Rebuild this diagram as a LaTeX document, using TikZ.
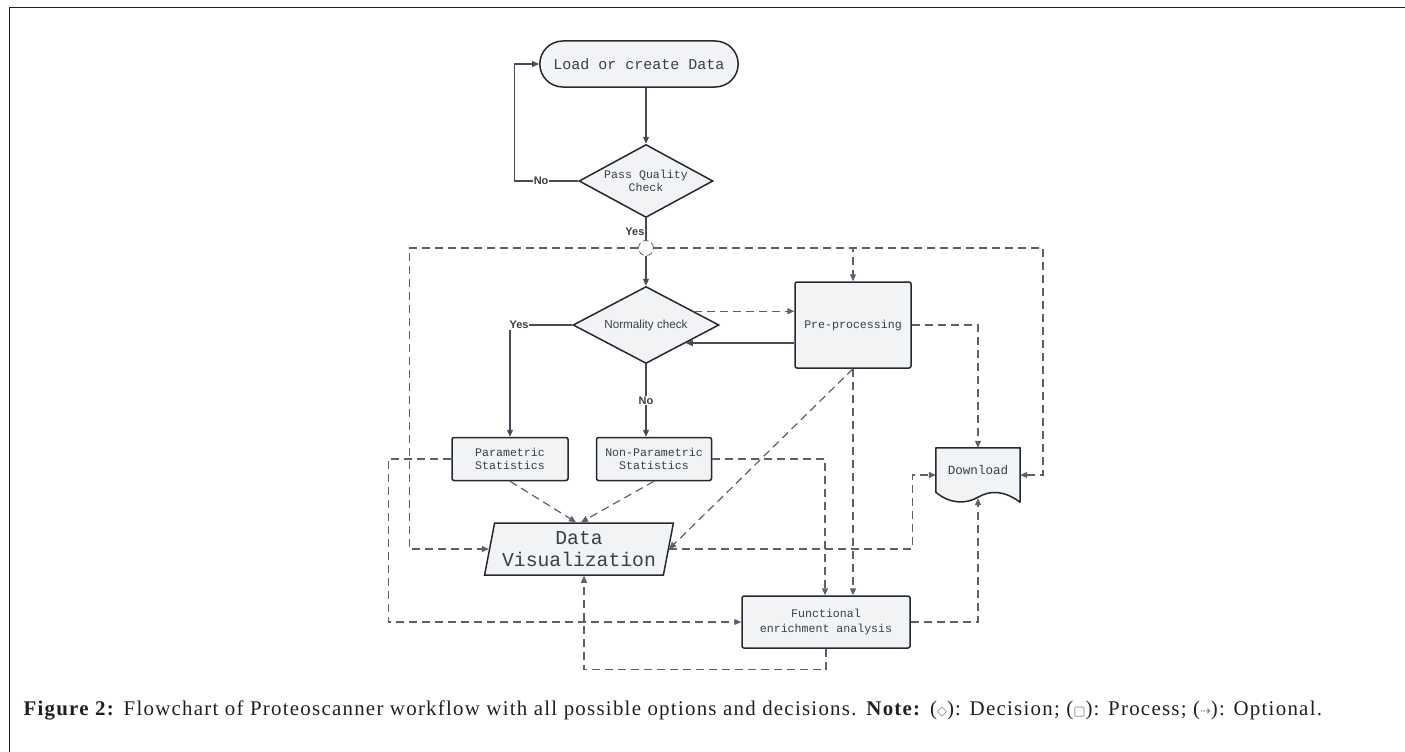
\documentclass[tikz,border=0pt]{standalone}
\usepackage{fontspec}
\setsansfont{Liberation Sans}
\setmonofont{Liberation Mono}
\newfontfamily\glyphfont{DejaVu Sans}
\newfontfamily\capfont[LetterSpace=6]{Liberation Serif}
\usetikzlibrary{shapes.geometric,shapes.misc,arrows.meta,calc,backgrounds}
\definecolor{boxfill}{RGB}{242,243,245}
\definecolor{boxline}{RGB}{36,40,47}
\definecolor{flowline}{RGB}{70,75,85}
\definecolor{optline}{RGB}{92,96,104}
\definecolor{labeltext}{RGB}{58,62,70}
\definecolor{captext}{RGB}{35,31,32}

\begin{document}
\begin{tikzpicture}[x=1pt,y=-1pt,>={Triangle[length=7pt,width=6pt]},node distance=144pt,
    shape node/.style={draw=boxline,fill=boxfill,line width=1.5pt,text=labeltext,align=center,font=\ttfamily\fontsize{11.6}{13.5}\selectfont},
    term node/.style={shape node,rounded rectangle,minimum width=205pt,minimum height=46pt,font=\ttfamily\fontsize{15}{17}\selectfont},
    decision node/.style={shape node,diamond,aspect=1.8,inner sep=0pt},
    process node/.style={shape node,rectangle,rounded corners=2pt},
    data node/.style={shape node,trapezium,trapezium left angle=76,trapezium right angle=104,trapezium stretches=true,minimum width=189pt,minimum height=52pt,inner sep=1pt,font=\ttfamily\fontsize{19.7}{21.7}\selectfont},
    hub node/.style={circle,draw=optline,line width=0.8pt,dash pattern=on 6pt off 3pt,minimum size=15pt,inner sep=0pt},
    flow/.style={->,draw=flowline,line width=1.2pt},
    opt/.style={->,draw=optline,line width=1.2pt,dash pattern=on 8pt off 5pt},
    branch/.style={font=\sffamily\bfseries\fontsize{11}{12}\selectfont,text=labeltext,fill=white,inner sep=1pt}]
    \useasboundingbox (0,0) rectangle (1405,752);
    \draw[captext,line width=1pt] (9,752) -- (9,8) -- (1405,8);

    \node[term node] (load) at (639,64) {Load or create Data};
    \node[decision node,minimum width=134pt,minimum height=73pt] (qc) [below of=load,xshift=7,yshift=27] {Pass Quality\\Check};
    \node[hub node] (hub) [below of=qc,yshift=77] {};
    \node[decision node,minimum width=146pt,minimum height=77pt,font=\sffamily\fontsize{11.7}{13}\selectfont] (norm) [below of=qc] {Normality check};
    \node[process node,minimum width=116pt,minimum height=86pt] (pre) [right of=norm,xshift=63] {Pre-processing};
    \node[process node,minimum width=115pt,minimum height=43pt] (nonpar) [below of=norm,xshift=8,yshift=10] {Non-Parametric\\Statistics};
    \node[process node,minimum width=116pt,minimum height=43pt] (param) [left of=nonpar] {Parametric\\Statistics};
    \node[data node] (dv) [below of=param,xshift=69,yshift=54] {Data\\Visualization};
    \node[process node,minimum width=168pt,minimum height=52pt,font=\ttfamily\fontsize{11.6}{15}\selectfont] (func) [below of=pre,xshift=-27,yshift=-153] {Functional\\enrichment analysis};
    \node[minimum width=84pt,minimum height=44pt,inner sep=0pt,text=labeltext,font=\ttfamily\fontsize{12.6}{14}\selectfont] (dl) [right of=pre,xshift=-19,yshift=-145] {Download};

    % document shape behind the Download text
    \begin{scope}[on background layer]
        \draw[boxline,fill=boxfill,line width=1.5pt,line join=round] (dl.south west) -- (dl.north west) -- (dl.north east) -- ($(dl.south)+(42,10)$)
            .. controls ($(dl.south)+(26,-2)$) and ($(dl.south)+(12,-2)$) .. ($(dl.south)+(0,5)$)
            .. controls ($(dl.south)+(-12,12)$) and ($(dl.south)+(-28,12)$) .. cycle;
    \end{scope}

    \coordinate (na) at ($(norm.north)!0.65!(norm.east)$);
    \coordinate (nb) at ($(norm.east)!0.46!(norm.south)$);

    % main flow
    \draw[flow] (qc.north |- load.south) -- (qc.north);
    \draw[flow] (qc.west) -- node[branch,pos=0.58] {No} ++(-64,0) |- (load.west);
    \draw[flowline,line width=1.2pt] (qc.south) -- node[branch,left,pos=0.6,fill=none] {Yes} (hub.north);
    \draw[flow] (hub.south) -- (norm.north);
    \draw[flow] (norm.west) -| node[branch,pos=0.5,xshift=9] {Yes} (param.north);
    \draw[flow] (norm.south) -- node[branch] {No} (norm.south |- nonpar.north);
    \draw[flow] (pre.west |- nb) -- (nb);

    % optional steps
    \draw[opt] (na) -- (na -| pre.west);
    \draw[opt] (hub.west) -- ++(-229,0) |- (dv.west);
    \draw[opt] (hub.east) -| (pre.north);
    \draw[opt] (hub.east) -- ++(389,0) |- ([yshift=-5]dl.east);
    \draw[opt] (pre.east) -| (dl.north);
    \draw[opt] (pre.south) -- (pre.south |- func.north);
    \draw[opt] (pre.south) -- (dv.east);
    \draw[opt] (param.south) -- ([xshift=-3]dv.north);
    \draw[opt] (nonpar.south) -- ([xshift=2]dv.north);
    \draw[opt] (param.west) -- ++(-63,0) |- (func.west);
    \draw[opt] (nonpar.east) -| ([xshift=-1]func.north);
    \draw[opt] (func.south) -- ++(0,21) -| ([xshift=5]dv.south);
    \draw[opt] (func.east) -| ([yshift=-6]dl.south);
    \draw[opt] (dv.east) -- ++(243,0) |- ([yshift=-5]dl.west);

    \node[anchor=west,text=captext,font=\capfont\fontsize{20.9}{23}\selectfont] (caption) at (20,710) {\textbf{Figure 2:} Flowchart of Proteoscanner workflow with all possible options and decisions. \textbf{Note:} ({\glyphfont\fontsize{13}{14}\selectfont\color{gray}◇}): Decision; ({\glyphfont\fontsize{13}{14}\selectfont\color{gray}▢}): Process; ({\glyphfont\fontsize{13}{14}\selectfont\color{gray}⇢}): Optional.};
\end{tikzpicture}
\end{document}
